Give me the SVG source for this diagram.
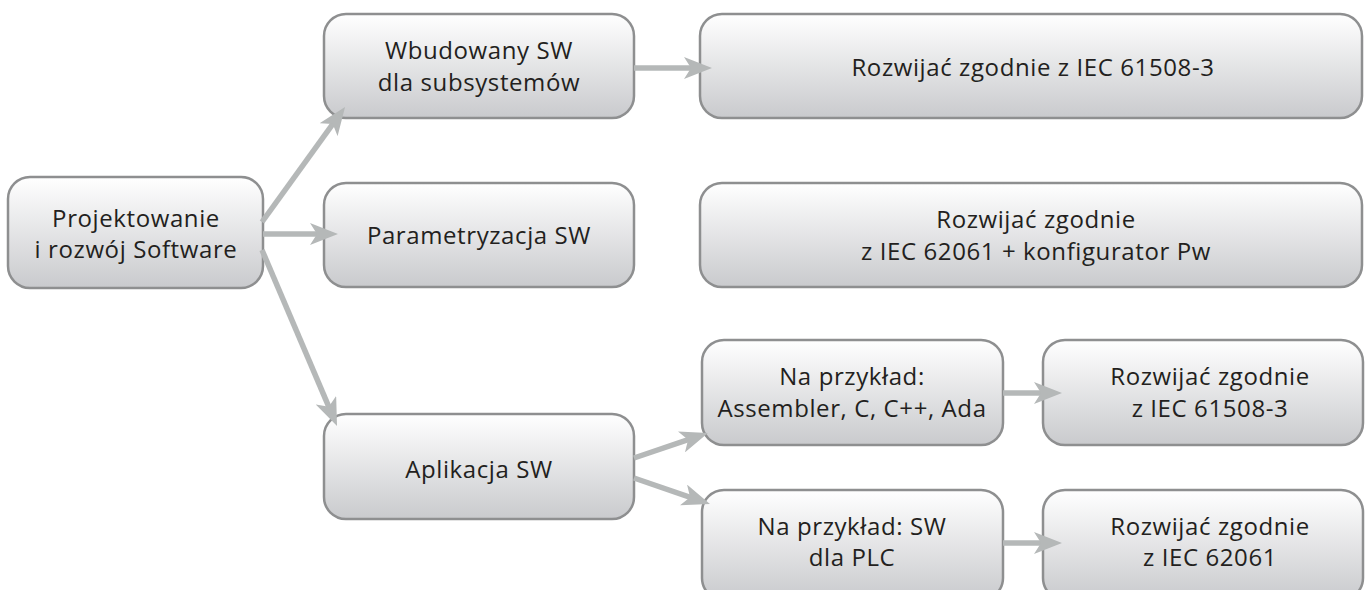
<svg xmlns="http://www.w3.org/2000/svg" width="1365" height="590" viewBox="0 0 1365 590">
<defs>
<linearGradient id="g" x1="0" y1="0" x2="0" y2="1">
<stop offset="0" stop-color="#ffffff"/>
<stop offset="1" stop-color="#c9cacd"/>
</linearGradient>
<marker id="ah" viewBox="0 0 28 22" refX="18" refY="11" markerWidth="28" markerHeight="22" markerUnits="userSpaceOnUse" orient="auto">
<path d="M0,0 L28,11 L0,22 L7,11 Z" fill="#b5b8b8"/>
</marker>
<style>
.box{fill:url(#g);stroke:#8e8f90;stroke-width:2.5}
.t{font-family:"Open Sans","Noto Sans",sans-serif;font-size:24px;letter-spacing:0.6px;fill:#231f20;text-anchor:middle}
.c line{stroke:#b5b8b8;stroke-width:5.5;marker-end:url(#ah)}
</style>
</defs>
<rect width="1365" height="590" fill="#ffffff"/>
<g id="n-projekt"><rect class="box" x="8" y="177" width="255" height="111" rx="22"/><text class="t" x="136" y="227">Projektowanie</text><text class="t" x="136" y="258">i rozwój Software</text></g>
<g id="n-wbud"><rect class="box" x="324" y="14" width="310" height="104" rx="22"/><text class="t" x="479" y="59">Wbudowany SW</text><text class="t" x="479" y="91">dla subsystemów</text></g>
<g id="n-r1"><rect class="box" x="700" y="14" width="662" height="104" rx="22"/><text class="t" x="1033" y="76">Rozwijać zgodnie z IEC 61508-3</text></g>
<g id="n-param"><rect class="box" x="324" y="183" width="310" height="104" rx="22"/><text class="t" x="479" y="244">Parametryzacja SW</text></g>
<g id="n-r2"><rect class="box" x="700" y="183" width="662" height="104" rx="22"/><text class="t" x="1036" y="228">Rozwijać zgodnie</text><text class="t" x="1036" y="260">z IEC 62061 + konfigurator Pw</text></g>
<g id="n-aplik"><rect class="box" x="324" y="414" width="310" height="105" rx="22"/><text class="t" x="479" y="478">Aplikacja SW</text></g>
<g id="n-np1"><rect class="box" x="702" y="340" width="301" height="105" rx="22"/><text class="t" x="852" y="385">Na przykład:</text><text class="t" x="852" y="417">Assembler, C, C++, Ada</text></g>
<g id="n-np2"><rect class="box" x="702" y="490" width="301" height="110" rx="22"/><text class="t" x="852" y="535">Na przykład: SW</text><text class="t" x="852" y="566">dla PLC</text></g>
<g id="n-r3"><rect class="box" x="1043" y="340" width="320" height="105" rx="22"/><text class="t" x="1210" y="385">Rozwijać zgodnie</text><text class="t" x="1210" y="417">z IEC 61508-3</text></g>
<g id="n-r4"><rect class="box" x="1043" y="490" width="320" height="110" rx="22"/><text class="t" x="1210" y="535">Rozwijać zgodnie</text><text class="t" x="1210" y="566">z IEC 62061</text></g>
<g id="connectors" class="c">
<line x1="262" y1="222" x2="339.2" y2="115.1"/>
<line x1="263" y1="234" x2="328" y2="234"/>
<line x1="262" y1="250" x2="333.1" y2="416.8"/>
<line x1="634" y1="68" x2="702" y2="68"/>
<line x1="634" y1="458" x2="698.5" y2="436.2"/>
<line x1="634" y1="478" x2="700.5" y2="500.8"/>
<line x1="1003" y1="393" x2="1052" y2="393"/>
<line x1="1003" y1="543" x2="1052" y2="543"/>
</g>
</svg>
